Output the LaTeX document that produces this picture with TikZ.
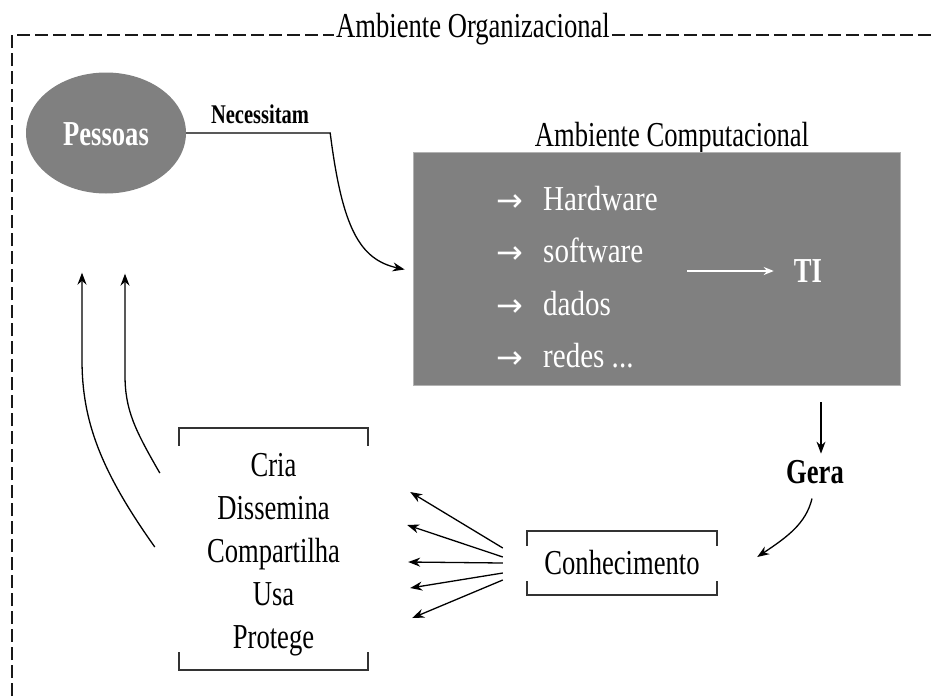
\documentclass[tikz,border=0pt]{standalone}
\usepackage{fontspec}
\setmainfont{Liberation Serif}[FakeStretch=0.76]
\newfontfamily\itemfont{Liberation Serif}[FakeStretch=0.83]
\newfontfamily\symbolfont{DejaVu Sans}
\usetikzlibrary{arrows.meta,calc,shapes.geometric}
\definecolor{boxgray}{HTML}{808080}

\begin{document}
\begin{tikzpicture}[x=1pt,y=-1pt,
  frame/.style={line width=2pt, dash pattern=on 13pt off 5pt, draw=black!90},
  conn/.style={line width=1.3pt, -{Stealth[length=12pt,width=9pt]}},
  bracket/.style={line width=1.8pt, draw=black!80},
  txt/.style={font=\fontsize{35}{43}\selectfont, inner sep=0pt},
  btxt/.style={font=\fontsize{35}{43}\selectfont\bfseries, inner sep=0pt},
  item/.style={font=\itemfont\fontsize{35}{43}\selectfont, inner sep=0pt, text=white, anchor=base west},
  itemarrow/.style={font=\symbolfont\fontsize{32}{34}\selectfont, text=white, inner sep=0pt, anchor=base west}]
\useasboundingbox (0,0) rectangle (936,696);

% outer dashed frame with its title
\node[txt, anchor=base] (org) at (473,37) {Ambiente Organizacional};
\coordinate (tl) at (12,35);
\coordinate (tr) at (932,35);
\coordinate (bl) at (12,696);
\draw[frame] (bl) -- (tl) -- ($(tl -| org.west)+(-2,0)$);
\draw[frame] ($(org.east |- tr)+(2,0)$) -- (tr);

% people
\node[ellipse, fill=boxgray, minimum width=160pt, minimum height=121pt, inner sep=0pt] (pes) at (106,133) {};
\node[btxt, text=white, anchor=base] (pestxt) at (106,145) {Pessoas};
\node[font=\fontsize{27}{30}\selectfont\bfseries, inner sep=0pt, anchor=base] (nec) at (260,123) {Necessitam};

% computing environment
\node[txt, anchor=base] (comptitle) at (672,146) {Ambiente Computacional};
\node[rectangle, fill=boxgray, draw=black!30, line width=0.8pt, minimum width=487pt, minimum height=233pt] (comp) at (656.5,268.5) {};
\node[itemarrow] (a1) at (496,211) {→};
\node[item] (i1) at (543,210) {Hardware};
\node[itemarrow] (a2) at (496,263) {→};
\node[item] (i2) at (543,262) {software};
\node[itemarrow] (a3) at (496,316) {→};
\node[item] (i3) at (543,315) {dados};
\node[itemarrow] (a4) at (496,368) {→};
\node[item] (i4) at (543,367) {redes ...};
\node[btxt, text=white, anchor=base] (ti) at (808,282) {TI};
\coordinate (tistart) at (687,271);
\draw[white, line width=2pt, -{Stealth[length=10pt,width=8pt]}, shorten >=20pt] (tistart) -- (ti.west |- tistart);

% generated knowledge
\node[btxt, anchor=base] (gera) at (815,483) {Gera};
\node[txt, minimum width=190pt, minimum height=64pt] (con) at (622,563) {Conhecimento};
\draw[bracket] ($(con.north west)+(0,15)$) -- (con.north west) -- (con.north east) -- ++(0,15);
\draw[bracket] ($(con.south west)+(0,-14)$) -- (con.south west) -- (con.south east) -- ++(0,-14);

% actions on knowledge
\node[minimum width=189pt, minimum height=242pt, inner sep=0pt] (acts) at (273.5,549) {};
\node[txt, align=center] (actstxt) at (273.5,555) {Cria\\Dissemina\\Compartilha\\Usa\\Protege};
\draw[bracket] ($(acts.north west)+(0,18)$) -- (acts.north west) -- (acts.north east) -- ++(0,18);
\draw[bracket] ($(acts.south west)+(0,-18)$) -- (acts.south west) -- (acts.south east) -- ++(0,-18);

% connectors
\draw[conn] (pes.east) -- ++(144,0) .. controls +(12,95) and +(-45,-10) .. ($(comp.west)+(-8,1)$);
\draw[conn, shorten <=17pt, shorten >=6pt] (comp.south -| 821,0) -- (gera.north -| 821,0);
\draw[conn] ($(gera.south)+(-3,15)$) .. controls +(-6,25) and +(30,-20) .. ($(con.east)+(40,-6)$);

\foreach \sy/\tx/\ty in {-15/42/-57, -6/39/-24, 0/40/13, 10/42/39, 17/44/69}
  \draw[conn] ($(con.west)+(-24,\sy)$) -- ($(acts.east)+(\tx,\ty)$);

\coordinate (la) at ($(acts.west)+(-24,-2)$);
\coordinate (lb) at ($(acts.west)+(-19,-76)$);
\coordinate (pa) at ($(pes.south)+(-24,79)$);
\coordinate (pb) at ($(pes.south)+(19,80)$);
\draw[conn] (la) .. controls (100,470) and (82,420) .. (82,360) -- (pa);
\draw[conn] (lb) .. controls (135,430) and (125,410) .. (125,375) -- (pb);
\end{tikzpicture}
\end{document}
